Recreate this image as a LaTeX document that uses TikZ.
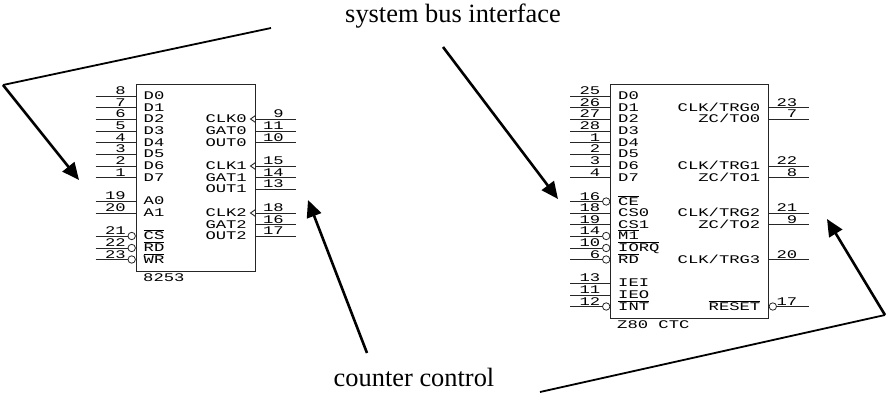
\documentclass[tikz,border=0pt]{standalone}
\usepackage{fontspec}
\setmainfont{Liberation Serif}
\newfontfamily\chipfont[FakeStretch=1.47]{Liberation Mono}
\usetikzlibrary{arrows.meta,calc}
\newcommand{\ovl}[1]{\setbox0=\hbox{#1}\rlap{\rule[8.8pt]{\wd0}{0.9pt}}\box0\relax}
\newcommand{\lpin}[3]{%
  \coordinate (#1o#3) at ($(#1.west |- 0,#2)+(-40,0)$);
  \coordinate (#1i#3) at (#1.west |- 0,#2);
  \draw[pinline] (#1o#3) -- (#1i#3);
  \node[chiptext,anchor=base east] (#1n#3) at ($(#1i#3)+(-9.5,-1.5)$) {#3};}
\newcommand{\lpinb}[3]{%
  \coordinate (#1o#3) at ($(#1.west |- 0,#2)+(-40,0)$);
  \node[bubble] (#1b#3) at ($(#1.west |- 0,#2)+(-3.8,0)$) {};
  \draw[pinline] (#1o#3) -- (#1b#3.west);
  \node[chiptext,anchor=base east] (#1n#3) at ($(#1b#3.center)+(-5.7,-1.5)$) {#3};}
\newcommand{\rpin}[3]{%
  \coordinate (#1o#3) at ($(#1.east |- 0,#2)+(40,0)$);
  \coordinate (#1i#3) at (#1.east |- 0,#2);
  \draw[pinline] (#1i#3) -- (#1o#3);
  \node[chiptext,anchor=base east] (#1n#3) at ($(#1i#3)+(28.5,-1.5)$) {#3};}
\newcommand{\clk}[2]{%
  \coordinate (#1t#2) at ($(#1.east |- 0,#2)+(-5,0)$);
  \coordinate (#1u#2) at ($(#1.east |- 0,#2)+(0,-3.5)$);
  \coordinate (#1d#2) at ($(#1.east |- 0,#2)+(0,3.5)$);
  \draw[pinline] (#1u#2) -- (#1t#2) -- (#1d#2);}
\newcommand{\llab}[4]{\node[chiptext,anchor=base west] (#1) at ($(#2.west |- 0,#3)+(8,3.8)$) {#4};}
\newcommand{\rlab}[4]{\node[chiptext,anchor=base east] (#1) at ($(#2.east |- 0,#3)+(-8.5,3.8)$) {#4};}
\begin{document}
\begin{tikzpicture}[x=1pt,y=-1pt,
  chip/.style={draw=black!85,line width=1pt,minimum width=#1,inner sep=0pt},
  pinline/.style={draw=black!85,line width=0.9pt},
  bubble/.style={circle,draw=black!85,line width=0.8pt,minimum size=7.4pt,inner sep=0pt},
  chiptext/.style={font=\chipfont\fontsize{11.7}{12}\selectfont,inner sep=0pt,text=black},
  caption/.style={font=\fontsize{26.4}{30}\selectfont,inner sep=0pt},
  callout/.style={line width=#1,line join=miter,draw=black},
  headed/.style={-{Triangle[length=17pt,width=15pt]}}]
\useasboundingbox (0,0) rectangle (886,394);
\fill[white] (0,0) rectangle (886,394);

\node[caption,anchor=base] (busLabel) at (453,22) {system bus interface};
\node[caption,anchor=base] (ctrlLabel) at (414,386) {counter control};

% 8253
\node[chip=119pt,minimum height=187pt] (A) at (195.5,177.5) {};
\lpin{A}{96}{8}\lpin{A}{107.5}{7}\lpin{A}{119}{6}\lpin{A}{131}{5}
\lpin{A}{142.5}{4}\lpin{A}{154}{3}\lpin{A}{166}{2}\lpin{A}{177.5}{1}
\lpin{A}{201}{19}\lpin{A}{213}{20}
\lpinb{A}{236}{21}\lpinb{A}{248}{22}\lpinb{A}{259.5}{23}
\rpin{A}{119}{9}\rpin{A}{131}{11}\rpin{A}{142.5}{10}
\rpin{A}{166}{15}\rpin{A}{177.5}{14}\rpin{A}{189}{13}
\rpin{A}{213}{18}\rpin{A}{224.5}{16}\rpin{A}{236}{17}
\clk{A}{119}\clk{A}{166}\clk{A}{213}
\llab{aD0}{A}{96}{D0}\llab{aD1}{A}{107.5}{D1}\llab{aD2}{A}{119}{D2}\llab{aD3}{A}{131}{D3}
\llab{aD4}{A}{142.5}{D4}\llab{aD5}{A}{154}{D5}\llab{aD6}{A}{166}{D6}\llab{aD7}{A}{177.5}{D7}
\llab{aA0}{A}{201}{A0}\llab{aA1}{A}{213}{A1}
\llab{aCS}{A}{236}{\ovl{CS}}\llab{aRD}{A}{248}{\ovl{RD}}\llab{aWR}{A}{259.5}{\ovl{WR}}
\rlab{aC0}{A}{119}{CLK0}\rlab{aG0}{A}{131}{GAT0}\rlab{aO0}{A}{142.5}{OUT0}
\rlab{aC1}{A}{166}{CLK1}\rlab{aG1}{A}{177.5}{GAT1}\rlab{aO1}{A}{189}{OUT1}
\rlab{aC2}{A}{213}{CLK2}\rlab{aG2}{A}{224.5}{GAT2}\rlab{aO2}{A}{236}{OUT2}
\node[chiptext,anchor=base west] (aName) at (143,281) {8253};

% Z80 CTC
\node[chip=158pt,minimum height=234pt] (B) at (689.5,201) {};
\lpin{B}{96}{25}\lpin{B}{107.5}{26}\lpin{B}{119}{27}\lpin{B}{131}{28}
\lpin{B}{142.5}{1}\lpin{B}{154}{2}\lpin{B}{166}{3}\lpin{B}{177.5}{4}
\lpinb{B}{201.5}{16}\lpin{B}{213}{18}\lpin{B}{224.5}{19}
\lpinb{B}{236}{14}\lpinb{B}{248}{10}\lpinb{B}{259.5}{6}
\lpin{B}{283}{13}\lpin{B}{295}{11}\lpinb{B}{306.5}{12}
\rpin{B}{107.5}{23}\rpin{B}{119}{7}\rpin{B}{166}{22}\rpin{B}{177.5}{8}
\rpin{B}{213}{21}\rpin{B}{224.5}{9}\rpin{B}{259.5}{20}
\node[bubble] (Bb17) at ($(B.east |- 0,306.5)+(3.8,0)$) {};
\coordinate (Bo17) at ($(B.east |- 0,306.5)+(40,0)$);
\draw[pinline] (Bb17.east) -- (Bo17);
\node[chiptext,anchor=base east] (Bn17) at ($(B.east |- 0,305)+(28.5,0)$) {17};
\llab{bD0}{B}{96}{D0}\llab{bD1}{B}{107.5}{D1}\llab{bD2}{B}{119}{D2}\llab{bD3}{B}{131}{D3}
\llab{bD4}{B}{142.5}{D4}\llab{bD5}{B}{154}{D5}\llab{bD6}{B}{166}{D6}\llab{bD7}{B}{177.5}{D7}
\llab{bCE}{B}{201.5}{\ovl{CE}}\llab{bCS0}{B}{213}{CS0}\llab{bCS1}{B}{224.5}{CS1}
\llab{bM1}{B}{236}{\ovl{M1}}\llab{bIQ}{B}{248}{\ovl{IORQ}}\llab{bRD}{B}{259.5}{\ovl{RD}}
\llab{bIEI}{B}{283}{IEI}\llab{bIEO}{B}{295}{IEO}\llab{bINT}{B}{306.5}{\ovl{INT}}
\rlab{bT0}{B}{107.5}{CLK/TRG0}\rlab{bZ0}{B}{119}{ZC/TO0}
\rlab{bT1}{B}{166}{CLK/TRG1}\rlab{bZ1}{B}{177.5}{ZC/TO1}
\rlab{bT2}{B}{213}{CLK/TRG2}\rlab{bZ2}{B}{224.5}{ZC/TO2}
\rlab{bT3}{B}{259.5}{CLK/TRG3}\rlab{bRS}{B}{306.5}{\ovl{RESET}}
\node[chiptext,anchor=base west] (bName) at (617,328) {Z80 CTC};

% callout arrows
\coordinate (s1) at (271,28);
\coordinate (k1) at (3,85);
\coordinate (e1) at (79,180);
\coordinate (s2) at (443,47);
\coordinate (e2) at (558,199);
\coordinate (s3) at (367,353);
\coordinate (e3) at (308,200);
\coordinate (s4) at (540,392);
\coordinate (k4) at (885,315);
\coordinate (e4) at (827,219);
\draw[callout=1.8pt] (s1) -- (k1);
\draw[callout=2.6pt,headed] (k1) -- (e1);
\draw[callout=2.6pt,headed] (s2) -- (e2);
\draw[callout=2.6pt,headed] (s3) -- (e3);
\draw[callout=1.8pt] (s4) -- (k4);
\draw[callout=2.6pt,headed] (k4) -- (e4);
\end{tikzpicture}
\end{document}
